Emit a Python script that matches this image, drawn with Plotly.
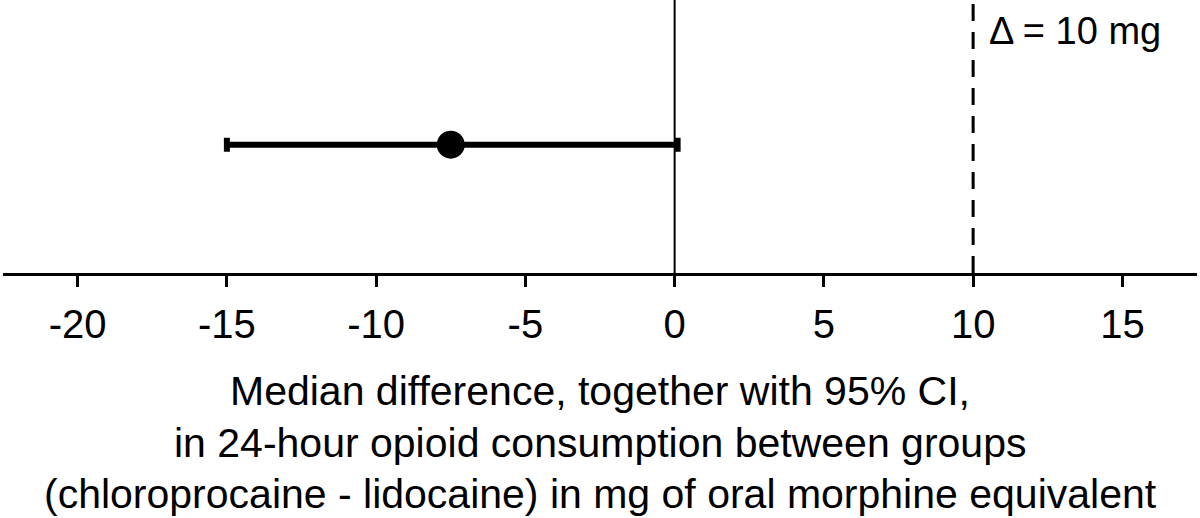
import plotly.graph_objects as go

# Data
median_diff = [-7.5]
ci_lower = [-15.0]
ci_upper = [0.1]
row_y = [0.47]
zero_x = 0
margin_delta = 10
tick_vals = [-20, -15, -10, -5, 0, 5, 10, 15]
tick_text = ["-20", "-15", "-10", "-5", "0", "5", "10", "15"]
title_lines = [
    "Median difference, together with 95% CI,",
    "in 24-hour opioid consumption between groups",
    "(chloroprocaine - lidocaine) in mg of oral morphine equivalent",
]
delta_label = "\u0394 = 10 mg"

FONT = "Liberation Sans, Arial, sans-serif"

fig = go.Figure()

# zero reference line
fig.add_trace(go.Scatter(x=[zero_x, zero_x], y=[0, 1], mode="lines",
                         line=dict(color="black", width=2), hoverinfo="skip",
                         showlegend=False, cliponaxis=False))
# equivalence margin line
fig.add_trace(go.Scatter(x=[margin_delta, margin_delta], y=[0, 0.985], mode="lines",
                         line=dict(color="black", width=3, dash="17px,11px"),
                         hoverinfo="skip", showlegend=False))
# median with CI
fig.add_trace(go.Scatter(
    x=median_diff, y=row_y, mode="markers",
    marker=dict(color="black", size=28),
    error_x=dict(type="data", symmetric=False,
                 array=[u - m for u, m in zip(ci_upper, median_diff)],
                 arrayminus=[m - l for m, l in zip(median_diff, ci_lower)],
                 color="black", thickness=6, width=7),
    showlegend=False))

fig.add_annotation(x=margin_delta, y=1, xref="x", yref="paper",
                   text=delta_label, showarrow=False, xanchor="left", yanchor="top",
                   xshift=14, yshift=-8, font=dict(family=FONT, size=38, color="black"))

title_shifts = [-118, -170, -221]
for line, ys in zip(title_lines, title_shifts):
    fig.add_annotation(x=0.5, y=0, xref="paper", yref="paper", text=line,
                       showarrow=False, xanchor="center", yanchor="middle",
                       yshift=ys, font=dict(family=FONT, size=41, color="black"))

fig.update_layout(
    width=1200, height=518,
    margin=dict(l=3, r=3, t=0, b=245, autoexpand=False),
    paper_bgcolor="white", plot_bgcolor="white",
    font=dict(family=FONT, color="black"),
    xaxis=dict(range=[-22.5, 17.5], tickvals=tick_vals, ticktext=tick_text,
               automargin=False,
               showgrid=False, zeroline=False, showline=True, linecolor="black",
               linewidth=2.5, ticks="outside", ticklen=11, tickwidth=2.5,
               tickcolor="black", ticklabelstandoff=3,
               tickfont=dict(family=FONT, size=40, color="black")),
    yaxis=dict(range=[0, 1], visible=False, showgrid=False, zeroline=False,
               automargin=False),
)

fig.write_html("out.html", config={"displayModeBar": False},
               post_script="document.body.style.margin='0';document.body.style.overflow='hidden';")
